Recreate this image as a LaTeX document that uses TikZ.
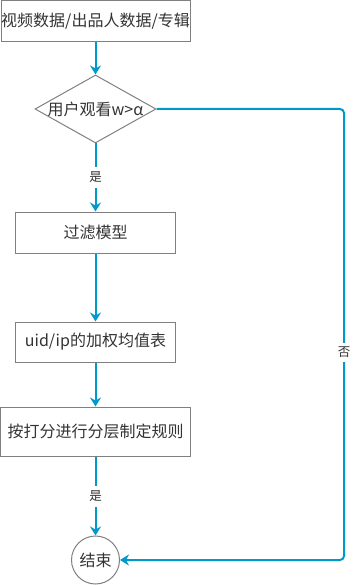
\documentclass[tikz,border=0pt]{standalone}
\usepackage{fontspec}
\setmainfont{Noto Sans CJK SC}
\usetikzlibrary{arrows.meta,shapes.geometric}
\definecolor{flow}{RGB}{0,153,204}
\definecolor{edge}{RGB}{128,128,128}
\definecolor{ink}{RGB}{51,51,51}
\tikzset{
  box/.style={draw=edge, line width=1pt, rectangle, inner sep=0pt, text=ink, font=\fontsize{16}{19}\selectfont},
  conn/.style={draw=flow, line width=2pt, -{Stealth[length=9pt,width=11pt,inset=3pt]}},
  lbl/.style={fill=white, text=ink, font=\fontsize{12.5}{14}\selectfont, inner sep=5pt}
}
\begin{document}
\begin{tikzpicture}[x=1pt,y=-1pt]
\useasboundingbox (0,0) rectangle (361,585);
\node[box, minimum width=189pt, minimum height=41pt] (b1) at (95.5,21) {视频数据/出品人数据/专辑};
\node[draw=edge, line width=1pt, diamond, minimum width=121pt, minimum height=68pt, inner sep=0pt] (dia) at (95.5,109) {};
\node[text=ink, font=\fontsize{16}{19}\selectfont, inner sep=0pt] (dt) at (dia.center) {用户观看w>α};
\node[box, minimum width=160pt, minimum height=41pt] (b2) at (95.5,232.5) {过滤模型};
\node[box, minimum width=160pt, minimum height=40pt] (b3) at (95.5,342) {uid/ip的加权均值表};
\node[box, minimum width=190pt, minimum height=49pt] (b4) at (95.5,431.5) {按打分进行分层制定规则};
\node[box, circle, minimum size=48pt] (end) at (95.5,560) {结束};
\coordinate (c1) at (344,109);
\coordinate (c2) at (344,560);
\draw[conn] (b1) -- (dia.north);
\draw[conn] (dia.south) -- node[lbl] {是} (b2.north);
\draw[conn] (b2) -- (b3);
\draw[conn] (b3) -- (b4);
\draw[conn] (b4.south) -- node[lbl, pos=0.5] {是} (end.north);
\draw[conn, rounded corners=4pt] (dia.east) -- (c1) -- node[lbl, pos=0.54, inner sep=4pt] {否} (c2) -- (end.east);
\end{tikzpicture}
\end{document}
